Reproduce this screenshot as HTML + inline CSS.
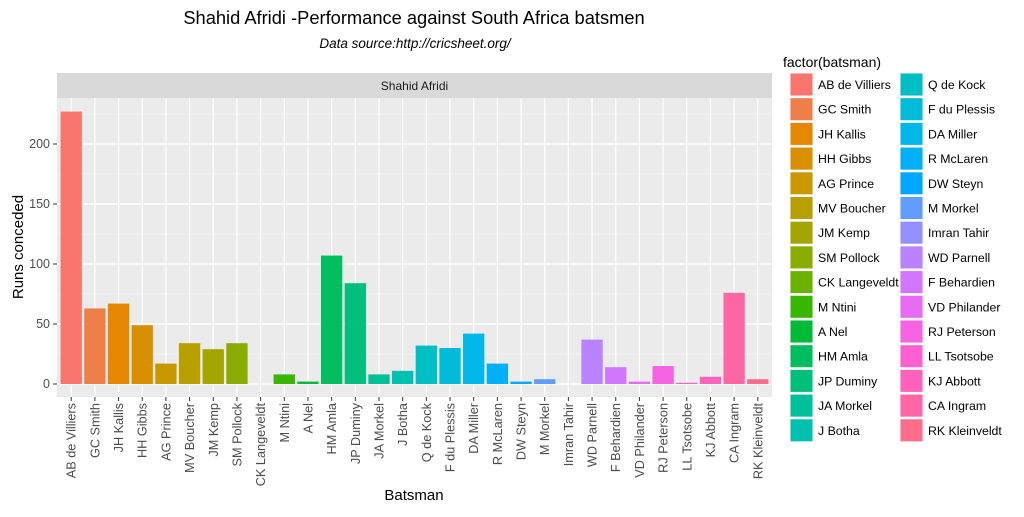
<!DOCTYPE html>
<html><head><meta charset="utf-8"><style>
body{margin:0;background:#fff;}
svg{font-family:"Liberation Sans",Arial,sans-serif;}
</style></head><body>
<svg id="c" width="1024" height="512" xmlns="http://www.w3.org/2000/svg"></svg>
<script>
const categories=["AB de Villiers","GC Smith","JH Kallis","HH Gibbs","AG Prince","MV Boucher","JM Kemp","SM Pollock","CK Langeveldt","M Ntini","A Nel","HM Amla","JP Duminy","JA Morkel","J Botha","Q de Kock","F du Plessis","DA Miller","R McLaren","DW Steyn","M Morkel","Imran Tahir","WD Parnell","F Behardien","VD Philander","RJ Peterson","LL Tsotsobe","KJ Abbott","CA Ingram","RK Kleinveldt"];
const runs=[227,63,67,49,17,34,29,34,0,8,2,107,84,8,11,32,30,42,17,2,4,0,37,14,2,15,1,6,76,4];
const yTicks=[0,50,100,150,200];

const svg=document.getElementById('c');
const NS="http://www.w3.org/2000/svg";
function el(t,a,p){const e=document.createElementNS(NS,t);for(const k in a)e.setAttribute(k,a[k]);(p||svg).appendChild(e);return e;}
function hcl(h){const L=65,C=100;const hr=h*Math.PI/180;const U=C*Math.cos(hr),V=C*Math.sin(hr);
 const Y=Math.pow((L+16)/116,3);const un=0.19783982,vn=0.4683363;
 const u=U/(13*L)+un,v=V/(13*L)+vn;const X=9*Y*u/(4*v),Z=-X/3-5*Y+3*Y/v;
 const r=3.240479*X-1.537150*Y-0.498535*Z,g=-0.969256*X+1.875992*Y+0.041556*Z,b=0.055648*X-0.204043*Y+1.057311*Z;
 const gc=c=>{c=c>0.0031308?1.055*Math.pow(c,1/2.4)-0.055:12.92*c;return Math.round(Math.max(0,Math.min(1,c))*255);};
 return `rgb(${gc(r)},${gc(g)},${gc(b)})`;}
const n=categories.length;
const colors=categories.map((_,i)=>hcl(15+i*360/n));
const PL=57,PR=772,PT=98,PB=397;
const x=i=>PL+(i+0.6)*(PR-PL)/(n-1+1.2);
const y=v=>384-v*1.2;
const step=(PR-PL)/(n-1+1.2);

let t=el('text',{x:414,y:24,'text-anchor':'middle','font-size':18.3,fill:'#000'});t.textContent="Shahid Afridi -Performance against South Africa batsmen";

t=el('text',{x:415,y:48,'text-anchor':'middle','font-size':13.5,'font-style':'italic',fill:'#000'});t.textContent="Data source:http://cricsheet.org/";


let r=el('rect',{x:PL,y:73,width:PR-PL,height:PT-73,fill:'#d9d9d9'});

t=el('text',{x:(PL+PR)/2,y:90,'text-anchor':'middle','font-size':12,fill:'#1a1a1a'});t.textContent="Shahid Afridi";

r=el('rect',{x:PL,y:PT,width:PR-PL,height:PB-PT,fill:'#ebebeb'});

for(let v=25;v<=225;v+=50){if(y(v)>PT)el('line',{x1:PL,x2:PR,y1:y(v),y2:y(v),stroke:'#f5f5f5','stroke-width':0.6});}
yTicks.forEach(v=>{el('line',{x1:PL,x2:PR,y1:y(v),y2:y(v),stroke:'#fff','stroke-width':1.2});
 el('line',{x1:PL-4,x2:PL,y1:y(v),y2:y(v),stroke:'#333'});
 const tt=el('text',{x:PL-7,y:y(v)+4,'text-anchor':'end','font-size':12.5,fill:'#4d4d4d'});tt.textContent=v;
 });
categories.forEach((c,i)=>{const cx=x(i);
 el('line',{x1:cx,x2:cx,y1:PT,y2:PB,stroke:'#fff','stroke-width':1.2});
 el('line',{x1:cx,x2:cx,y1:PB,y2:PB+4,stroke:'#333'});
 const tt=el('text',{transform:`translate(${cx+4.5},${PB+6}) rotate(-90)`,'text-anchor':'end','font-size':12.7,fill:'#4d4d4d'});tt.textContent=c;
 });
runs.forEach((v,i)=>{const w=step*0.9;
 const b=el('rect',{x:x(i)-w/2,y:y(v),width:w,height:y(0)-y(v),fill:colors[i]});
 });
t=el('text',{x:414,y:500,'text-anchor':'middle','font-size':15,fill:'#000'});t.textContent="Batsman";

t=el('text',{transform:'translate(23,247) rotate(-90)','text-anchor':'middle','font-size':15,fill:'#000'});t.textContent="Runs conceded";

t=el('text',{x:783,y:67,'font-size':14,fill:'#000'});t.textContent="factor(batsman)";

categories.forEach((c,i)=>{const col=i<15?0:1,row=i%15;const kx=col?900:790,ky=73+row*24.7;
 const g=el('g',{});
 
 el('rect',{x:kx,y:ky,width:23,height:23,fill:'#f2f2f2'},g);
 el('rect',{x:kx+0.5,y:ky+0.5,width:22,height:22,fill:colors[i]},g);
 const tt=el('text',{x:kx+28,y:ky+16,'font-size':12.3,fill:'#000'},g);tt.textContent=c;});
</script>
</body></html>
